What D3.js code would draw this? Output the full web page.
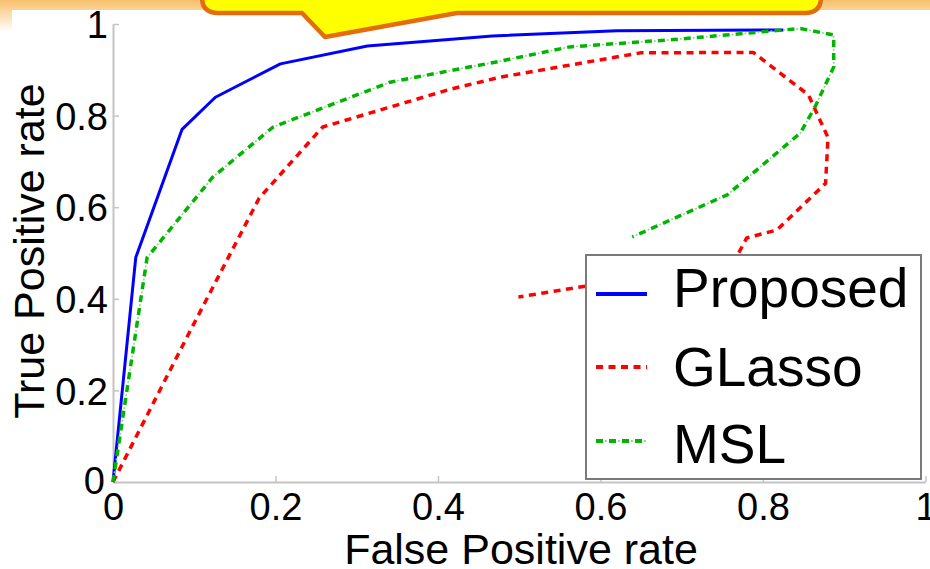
<!DOCTYPE html>
<html>
<head>
<meta charset="utf-8">
<script src="https://cdn.jsdelivr.net/npm/d3@7"></script>
<style>
  html, body { margin: 0; padding: 0; background: #ffffff; }
  svg { display: block; }
  text { font-family: "Liberation Sans", Arial, sans-serif; fill: #000; }
</style>
</head>
<body>
<svg id="chart" width="930" height="569"></svg>
<script>
// ROC curves: [false positive rate, true positive rate]
const proposed = [[0,0],[0.028,0.49],[0.085,0.77],[0.126,0.84],[0.206,0.913],[0.313,0.952],[0.467,0.974],[0.62,0.985],[0.825,0.987]];
const glasso = [[0,0],[0.095,0.33],[0.18,0.62],[0.258,0.775],[0.416,0.858],[0.477,0.884],[0.649,0.937],[0.788,0.938],[0.856,0.845],[0.88,0.752],[0.877,0.652],[0.817,0.55],[0.78,0.533],[0.755,0.45],[0.59,0.43],[0.499,0.404]];
const msl = [[0,0],[0.042,0.49],[0.123,0.666],[0.197,0.775],[0.341,0.873],[0.477,0.919],[0.562,0.95],[0.69,0.966],[0.825,0.987],[0.846,0.99],[0.887,0.976],[0.887,0.906],[0.864,0.819],[0.846,0.762],[0.756,0.627],[0.639,0.535]];

const seriesNames = ["Proposed", "GLasso", "MSL"];
const xTicks = [0, 0.2, 0.4, 0.6, 0.8, 1];
const yTicks = [0, 0.2, 0.4, 0.6, 0.8, 1];
const xTitle = "False Positive rate";
const yTitle = "True Positive rate";

const svg = d3.select("#chart");
const W = 930, H = 569;

// slide background: warm gradient band along the top edge
const defs = svg.append("defs");
const grad = defs.append("linearGradient").attr("id", "band").attr("x1", 0).attr("y1", 0).attr("x2", 0).attr("y2", 1);
grad.append("stop").attr("offset", "0%").attr("stop-color", "#f7c06a");
grad.append("stop").attr("offset", "100%").attr("stop-color", "#ffffff");
svg.append("rect").attr("x", 0).attr("y", 0).attr("width", W).attr("height", 32).attr("fill", "url(#band)");
// plot image panel
svg.append("rect").attr("x", 12).attr("y", 10).attr("width", W - 12).attr("height", H - 10).attr("fill", "#ffffff");

const x = d3.scaleLinear().domain([0, 1]).range([113, 925.5]);
const y = d3.scaleLinear().domain([0, 1]).range([482, 24]);

const fmt = d => (d === 0 || d === 1) ? String(d) : d.toFixed(1);

// axes with inward ticks
const gx = svg.append("g").attr("transform", `translate(0,${y(0)})`)
  .call(d3.axisBottom(x).tickValues(xTicks).tickFormat(fmt).tickSizeInner(-6).tickSizeOuter(0).tickPadding(11));
const gy = svg.append("g").attr("transform", `translate(${x(0)},0)`)
  .call(d3.axisLeft(y).tickValues(yTicks).tickFormat(fmt).tickSizeInner(-6).tickSizeOuter(0).tickPadding(5));
[gx, gy].forEach(g => {
  g.select(".domain").attr("stroke", "#c4c4c4").attr("stroke-width", 2);
  g.selectAll(".tick line").attr("stroke", "#c4c4c4").attr("stroke-width", 1.5);
  g.selectAll(".tick text").attr("font-size", 38).attr("font-family", "Liberation Sans, Arial, sans-serif").attr("fill", "#000");
});
gy.selectAll(".tick text").attr("dy", "0.36em");
// the origin label of the y axis sits a little higher and further left
gy.selectAll(".tick").filter(d => d === 0).select("text").attr("x", -8).attr("dy", "0.3em");

// axis titles
svg.append("text").attr("x", 521).attr("y", 564).attr("text-anchor", "middle")
  .attr("font-size", 43).text(xTitle);
svg.append("text").attr("transform", "translate(44,251) rotate(-90)").attr("text-anchor", "middle")
  .attr("font-size", 43).text(yTitle);

const line = d3.line().x(d => x(d[0])).y(d => y(d[1]));

const styles = [
  { color: "#0000ff", width: 3, dash: null },
  { color: "#ff0000", width: 3.5, dash: "7,5.5" },
  { color: "#00b400", width: 3.5, dash: "7,6" }
];
const data = [proposed, glasso, msl];

// curves (MSL is dash-dot: heavy dashes plus faint dots between them)
function drawSeries(g, d, i) {
  const s = styles[i];
  g.append("path").attr("d", line(d)).attr("fill", "none")
    .attr("stroke", s.color).attr("stroke-width", s.width)
    .attr("stroke-linejoin", "round")
    .attr("stroke-dasharray", s.dash);
  if (i === 2) {
    g.append("path").attr("d", line(d)).attr("fill", "none")
      .attr("stroke", "#7fdc7f").attr("stroke-width", 1.6)
      .attr("stroke-dasharray", "0,9,1.8,2.2");
  }
}
const curves = svg.append("g");
data.forEach((d, i) => drawSeries(curves, d, i));

// legend
const lg = svg.append("g");
lg.append("rect").attr("x", 586).attr("y", 255).attr("width", 335).attr("height", 224)
  .attr("fill", "#ffffff").attr("stroke", "#7a7a7a").attr("stroke-width", 2);
const rowY = [294, 367, 441];
const textBase = [307, 386, 463];
const sx = d3.scaleLinear().domain([0, 1]).range([596, 647]);
seriesNames.forEach((name, i) => {
  const sample = [[0, 0], [1, 0]];
  const s = styles[i];
  const sampleLine = d3.line().x(p => sx(p[0])).y(() => rowY[i]);
  lg.append("path").attr("d", sampleLine(sample))
    .attr("fill", "none").attr("stroke", s.color).attr("stroke-width", 4)
    .attr("stroke-dasharray", s.dash);
  if (i === 2) {
    lg.append("path").attr("d", sampleLine(sample))
      .attr("fill", "none").attr("stroke", "#7fdc7f").attr("stroke-width", 2)
      .attr("stroke-dasharray", "0,9,1.8,2.2");
  }
  lg.append("text").attr("x", 673).attr("y", textBase[i]).attr("font-size", 55).text(name);
});

// callout bubble overlapping the top edge
const r = 16;
const callout = `M202,-40 L202,${13 - r} Q202,13 ${202 + r},13 L302,13 L325,37 L457,13 L${821 - r},13 Q821,13 821,${13 - r} L821,-40 Z`;
svg.append("path").attr("d", callout).attr("fill", "#ffff00")
  .attr("stroke", "#e46c0a").attr("stroke-width", 4.5).attr("stroke-linejoin", "round");
</script>
</body>
</html>
